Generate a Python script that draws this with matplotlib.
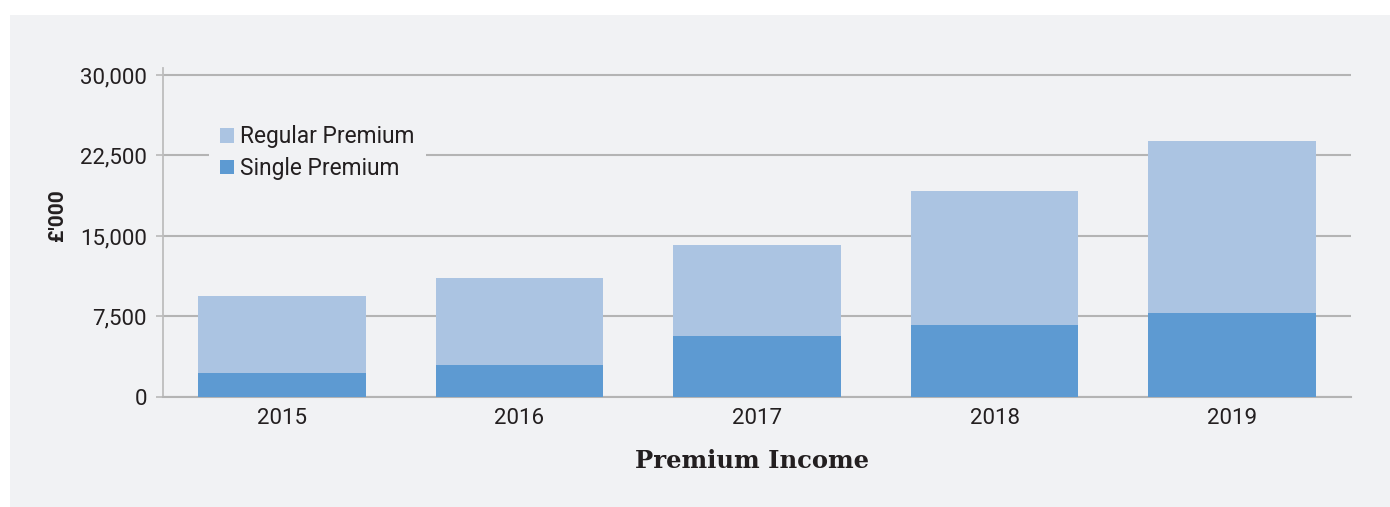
import numpy as np
import matplotlib
matplotlib.use("Agg")
import matplotlib.pyplot as plt
from matplotlib.patches import Rectangle

# data (£'000)
years = ["2015", "2016", "2017", "2018", "2019"]
single_premium = [2240, 2980, 5690, 6710, 7830]
regular_premium = [7170, 8110, 8480, 12490, 16020]
yticks = [0, 7500, 15000, 22500, 30000]

panel_color = "#f1f2f4"
light_blue = "#abc4e2"
dark_blue = "#5d9ad2"
text_color = "#231f20"
grid_color = "#b4b4b4"

plt.rcParams["font.family"] = ["Roboto", "DejaVu Sans"]

W, H = 1390, 507
fig = plt.figure(figsize=(W / 100, H / 100), dpi=100, facecolor="white")

# grey panel behind the chart
fig.patches.append(Rectangle((10 / W, 0), 1380 / W, 492 / H, transform=fig.transFigure,
                             facecolor=panel_color, edgecolor="none", zorder=-10))

ax = fig.add_axes([163 / W, 1 - 397 / H, (1351 - 163) / W, 329.3 / H])
ax.set_zorder(1)
ax.patch.set_alpha(0)

x = np.arange(len(years))
ax.bar(x, single_premium, width=0.705, color=dark_blue, label="Single Premium", zorder=3)
ax.bar(x, regular_premium, width=0.705, bottom=single_premium, color=light_blue,
       label="Regular Premium", zorder=3)

ax.set_xlim(-0.5, 4.5)
ax.set_ylim(0, 30680)
ax.set_yticks(yticks)
ax.set_yticklabels([f"{v:,}" for v in yticks])
ax.set_xticks(x)
ax.set_xticklabels(years)

ax.yaxis.grid(True, color=grid_color, linewidth=1.5, zorder=1)
ax.set_axisbelow(True)
for s in ["top", "right"]:
    ax.spines[s].set_visible(False)
ax.spines["left"].set_color("#bdbdbd")
ax.spines["left"].set_linewidth(1.3)
ax.spines["bottom"].set_color(grid_color)
ax.spines["bottom"].set_linewidth(1.5)

ax.tick_params(axis="y", length=5, width=1.3, color="#bdbdbd", pad=6.5,
               labelsize=16, labelcolor=text_color)
ax.tick_params(axis="x", length=0, pad=8, labelsize=16, labelcolor=text_color)

handles, labels = ax.get_legend_handles_labels()
leg = ax.legend(handles[::-1], labels[::-1], loc="upper left",
                bbox_to_anchor=(209 / W, 1 - 114 / H), bbox_transform=fig.transFigure,
                fontsize=16.4, frameon=True, facecolor=panel_color, edgecolor="none",
                framealpha=1, fancybox=False, handlelength=0.6, handleheight=0.6,
                handletextpad=0.25, labelspacing=0.38, borderpad=0.5, borderaxespad=0)
for t in leg.get_texts():
    t.set_color(text_color)

fig.text(58 / W, 1 - 215 / H, "£'000", rotation=90, ha="center", va="center",
         fontsize=15, fontweight="bold", color=text_color)
fig.text(752 / W, 1 - 461 / H, "Premium Income", ha="center", va="center",
         fontsize=17.5, fontweight="bold", color=text_color, family="DejaVu Serif")

fig.savefig("out.png", dpi=100, facecolor="white")
